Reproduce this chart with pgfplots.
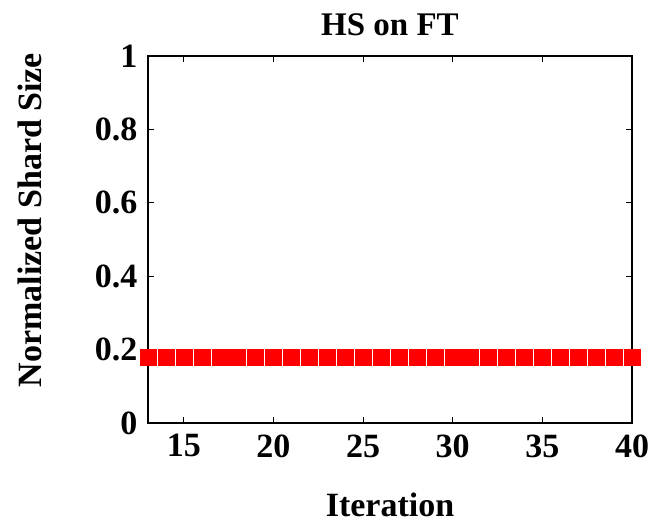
\documentclass[border=0pt]{standalone}
\usepackage{pgfplots}
\pgfplotsset{compat=1.18}
\usepackage{fontspec}
\setmainfont{Liberation Serif}
\begin{document}
\begin{tikzpicture}
\begin{axis}[
  name=ax,
  scale only axis,
  width=484pt, height=367pt,
  xmin=13, xmax=40, ymin=0, ymax=1,
  xtick={15,20,25,30,35,40},
  ytick={0,0.2,0.4,0.6,0.8,1},
  yticklabels={0,0.2,0.4,0.6,0.8,1},
  xticklabels={15,20,25,30,35,40},
  tick align=inside,
  major tick length=6pt,
  axis line style={line width=1.2pt},
  tick style={line width=1pt, black},
  tick label style={font=\fontsize{34}{38}\selectfont\bfseries},
  xticklabel style={yshift=-8pt},
  yticklabel style={xshift=-7pt},
  title={\fontsize{33}{36}\selectfont\bfseries HS on FT},
  title style={at={(axis description cs:0.5,1)}, anchor=base, inner sep=0pt, yshift=14pt},
  xlabel={\fontsize{34}{38}\selectfont\bfseries Iteration},
  ylabel={\fontsize{34}{38}\selectfont\bfseries Normalized Shard Size},
  xlabel style={at={(axis description cs:0.5,0)}, anchor=base, inner sep=0pt, yshift=-93pt},
  ylabel style={at={(axis description cs:0,0.553)}, anchor=center, inner sep=0pt, yshift=118pt},
  clip=false,
]
\addplot[only marks, mark=square*, mark size=8pt, color=red, mark options={fill=red, draw=red}]
coordinates {
(13,0.18)(14,0.18)(15,0.18)(16,0.18)(17,0.18)(18,0.18)(19,0.18)(20,0.18)(21,0.18)(22,0.18)
(23,0.18)(24,0.18)(25,0.18)(26,0.18)(27,0.18)(28,0.18)(29,0.18)(30,0.18)(31,0.18)(32,0.18)
(33,0.18)(34,0.18)(35,0.18)(36,0.18)(37,0.18)(38,0.18)(39,0.18)(40,0.18)
};
\end{axis}
\pgfresetboundingbox
\path ([shift={(-148pt,-99pt)}]ax.south west) rectangle ([shift={(26pt,56pt)}]ax.north east);
\end{tikzpicture}
\end{document}
